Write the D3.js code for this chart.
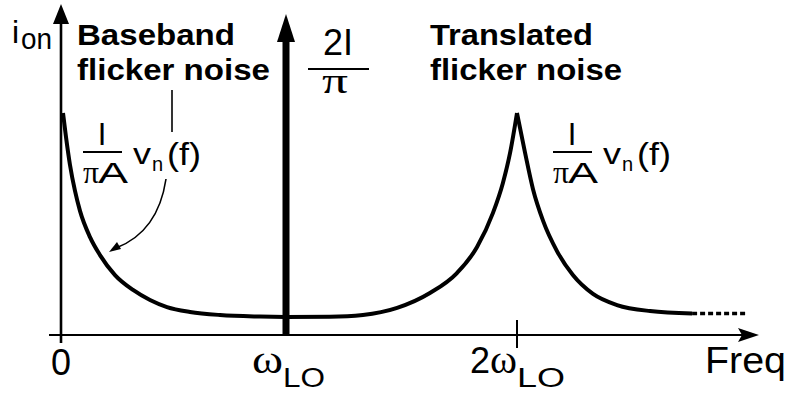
<!DOCTYPE html>
<html>
<head>
<meta charset="utf-8">
<title>flicker noise</title>
<script type="text/javascript" src="https://cdn.jsdelivr.net/npm/d3@7/dist/d3.min.js"></script>
<style>
body { margin: 0; background: #fff; }
svg { display: block; }
text { fill: #000; }
</style>
</head>
<body>
<svg width="791" height="394"></svg>
<script type="text/javascript">

// values (freq in units of wLO, amplitude arbitrary, peak = 10)
var baseFreq = [0.0089, 0.0222, 0.04, 0.0622, 0.0844, 0.1289, 0.1733, 0.24, 0.32, 0.3956, 0.4711, 0.5733, 0.7067, 0.8844, 1.0];
var baseAmp  = [10.0, 8.92, 7.66, 6.49, 5.59, 4.41, 3.60, 2.70, 2.03, 1.58, 1.26, 1.04, 0.90, 0.83, 0.81];

var riseFreq = [1.0, 1.19, 1.333, 1.481, 1.623, 1.740, 1.827, 1.896, 1.939, 1.970, 2.0];
var riseAmp  = [0.81, 0.82, 0.90, 1.22, 1.89, 2.79, 3.96, 5.50, 6.85, 8.20, 10.0];

var fallFreq = [2.0, 2.035, 2.069, 2.113, 2.173, 2.242, 2.329, 2.433, 2.576, 2.758];
var fallAmp  = [10.0, 8.20, 6.58, 5.14, 3.78, 2.70, 1.85, 1.35, 1.08, 0.97];

var tailFreq = [2.758, 2.996];
var tailAmp  = [0.97, 0.97];

var loFreq = 1;
var loAmp = 14.46;

var tickFreq = [0, 1, 2];
var tickMain = ["0", "\u03c9", "2\u03c9"];
var tickSub  = ["", "LO", "LO"];

var svg = d3.select("svg");

var x = d3.scaleLinear().domain([0, 1, 2]).range([61, 286, 517]);
var y = d3.scaleLinear().domain([0, 10]).range([335, 113]);

function zip(f, a) {
  return f.map(function(v, i) { return {f: v, a: a[i]}; });
}

var line = d3.line()
  .x(function(d) { return x(d.f); })
  .y(function(d) { return y(d.a); })
  .curve(d3.curveMonotoneX);

// axes
svg.append("line")
  .attr("x1", x(0) - 12).attr("y1", y(0))
  .attr("x2", 742).attr("y2", y(0))
  .attr("stroke", "#000").attr("stroke-width", 2);
svg.append("path")
  .attr("d", "M738," + (y(0) - 7) + " L759," + y(0) + " L738," + (y(0) + 7) + " L742," + y(0) + " Z")
  .attr("fill", "#000");

svg.append("line")
  .attr("x1", x(0)).attr("y1", y(0) + 8)
  .attr("x2", x(0)).attr("y2", 20)
  .attr("stroke", "#000").attr("stroke-width", 2.6);
svg.append("path")
  .attr("d", "M" + (x(0) - 8) + ",24 L" + x(0) + ",4 L" + (x(0) + 8) + ",24 Z")
  .attr("fill", "#000");

// tick at 2wLO
svg.append("line")
  .attr("x1", x(2)).attr("y1", y(0) - 15)
  .attr("x2", x(2)).attr("y2", y(0) + 13)
  .attr("stroke", "#000").attr("stroke-width", 2);

// noise curves
[zip(baseFreq, baseAmp), zip(riseFreq, riseAmp), zip(fallFreq, fallAmp)].forEach(function(seg) {
  svg.append("path")
    .attr("d", line(seg))
    .attr("fill", "none")
    .attr("stroke", "#000")
    .attr("stroke-width", 4)
    .attr("stroke-linecap", "butt");
});

svg.append("path")
  .attr("d", d3.line().x(function(d) { return x(d.f); }).y(function(d) { return y(d.a); })(zip(tailFreq, tailAmp)))
  .attr("fill", "none")
  .attr("stroke", "#000")
  .attr("stroke-width", 3.5)
  .attr("stroke-dasharray", "5,3");

// LO impulse
var tipY = y(loAmp);
svg.append("rect")
  .attr("x", x(loFreq) - 3.5).attr("y", tipY + 24)
  .attr("width", 7).attr("height", y(0) - tipY - 24)
  .attr("fill", "#000");
svg.append("path")
  .attr("d", "M" + (x(loFreq) - 9) + "," + (tipY + 28) + " L" + x(loFreq) + "," + tipY + " L" + (x(loFreq) + 9) + "," + (tipY + 28) + " Z")
  .attr("fill", "#000");

// text helper
function label(px, py, str, size, opt) {
  opt = opt || {};
  var t = svg.append("text")
    .attr("x", px).attr("y", py)
    .attr("font-family", opt.serif ? "'Liberation Serif', serif" : "'Liberation Sans', Arial, sans-serif")
    .attr("font-size", size)
    .attr("font-weight", opt.bold ? "bold" : "normal")
    .attr("text-anchor", opt.anchor || "start")
    .text(str);
  if (opt.len) t.attr("textLength", opt.len).attr("lengthAdjust", "spacingAndGlyphs");
  return t;
}

// tick labels
tickFreq.forEach(function(f, i) {
  if (i == 0) {
    label(x(f), 375, tickMain[i], 36, {anchor: "middle"});
  } else if (i == 1) {
    label(x(f) - 34, 373, tickMain[i], 40, {serif: true, len: 31});
    label(x(f) - 3, 387, tickSub[i], 27, {len: 42});
  } else {
    label(x(f) - 47, 373, "2", 36);
    label(x(f) - 27, 373, "\u03c9", 40, {serif: true, len: 27});
    label(x(f), 387, tickSub[i], 27, {len: 48});
  }
});

label(705, 373, "Freq", 36, {len: 81});

// y label
label(12, 43, "i", 32);
label(21, 49, "on", 29, {len: 31});

// titles
label(77, 45, "Baseband", 29, {bold: true, len: 158});
label(77, 80, "flicker noise", 29, {bold: true, len: 193});
label(430, 45, "Translated", 29, {bold: true, len: 163});
label(430, 80, "flicker noise", 29, {bold: true, len: 192});

// 2I/pi
label(338, 55, "2I", 36, {anchor: "middle"});
svg.append("line").attr("x1", 308).attr("x2", 369).attr("y1", 69).attr("y2", 69)
  .attr("stroke", "#000").attr("stroke-width", 2);
label(335, 93, "\u03c0", 36, {serif: true, anchor: "middle", len: 26});

// I/(pi A) vn(f)
function gain(px, py) {
  label(px + 19, py, "I", 31, {anchor: "middle"});
  svg.append("line").attr("x1", px).attr("x2", px + 39).attr("y1", py + 7).attr("y2", py + 7)
    .attr("stroke", "#000").attr("stroke-width", 2);
  label(px, py + 38, "\u03c0", 32, {serif: true, len: 16});
  label(px + 15, py + 38, "A", 30, {len: 30});
  label(px + 50, py + 19, "v", 30, {len: 18});
  label(px + 69, py + 26, "n", 20);
  label(px + 84, py + 20, "(f)", 32, {len: 34});
}
gain(83, 145);
gain(553, 145);

// pointer from "Baseband flicker noise" label
svg.append("line").attr("x1", 172).attr("x2", 172).attr("y1", 90).attr("y2", 132)
  .attr("stroke", "#000").attr("stroke-width", 1.6);
svg.append("path")
  .attr("d", "M166,179 Q158,232 116,248")
  .attr("fill", "none").attr("stroke", "#000").attr("stroke-width", 1.6);
svg.append("path")
  .attr("d", "M109,252 L117,242 L121,249 Z")
  .attr("fill", "#000");

</script>
</body>
</html>
